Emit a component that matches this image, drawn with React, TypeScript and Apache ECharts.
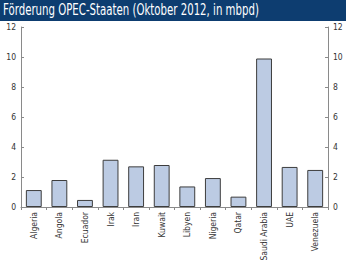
import React, { useEffect, useRef } from "react";
import * as echarts from "echarts";

const titleText = "Förderung OPEC-Staaten (Oktober 2012, in mbpd)";
const categories = ["Algeria", "Angola", "Ecuador", "Irak", "Iran", "Kuwait", "Libyen", "Nigeria", "Qatar", "Saudi Arabia", "UAE", "Venezuela"];
const production = [1.13, 1.8, 0.47, 3.15, 2.71, 2.8, 1.37, 1.93, 0.69, 9.9, 2.67, 2.47];
const yMin = 0;
const yMax = 12;
const yStep = 2;

const FONT = "'DejaVu Sans Condensed', 'Liberation Sans Narrow', sans-serif";

export default function App() {
  const ref = useRef<HTMLDivElement>(null);
  useEffect(() => {
    document.body.style.margin = "0";
    const chart = echarts.init(ref.current!, null, { renderer: "svg" });
    const axisLabel = { color: "#333", fontSize: 8.5, fontFamily: FONT };
    const yAxisCommon = {
      type: "value",
      min: yMin,
      max: yMax,
      interval: yStep,
      splitLine: { show: false },
      axisLine: { show: true, lineStyle: { color: "#8a8a8a", width: 1 } },
      axisTick: { show: true, inside: true, length: 3, lineStyle: { color: "#8a8a8a" } },
    };
    chart.setOption({
      animation: false,
      backgroundColor: "#fff",
      graphic: [
        { type: "rect", left: 0, top: 0, shape: { width: 346, height: 21 }, style: { fill: "#0d3d70" } },
        {
          type: "text",
          x: 3,
          y: 2,
          scaleX: 0.755,
          style: { text: titleText, fill: "#fff", fontSize: 15, fontFamily: FONT, textVerticalAlign: "top" },
        },
      ],
      grid: { left: 21, right: 18, top: 27, bottom: 53, containLabel: false, outerBoundsMode: "none" },
      xAxis: {
        type: "category",
        data: categories,
        axisLine: { show: true, lineStyle: { color: "#8a8a8a" } },
        axisTick: { show: true, length: 3, lineStyle: { color: "#8a8a8a" } },
        axisLabel: { ...axisLabel, rotate: 90, margin: 5, interval: 0 },
      },
      yAxis: [
        { ...yAxisCommon, position: "left", axisLabel: { ...axisLabel, margin: 5 } },
        { ...yAxisCommon, position: "right", axisLabel: { ...axisLabel, margin: 5 } },
      ],
      series: [
        {
          type: "bar",
          data: production,
          yAxisIndex: 0,
          barCategoryGap: "38%",
          itemStyle: { color: "#bccbe3", borderColor: "#3d3d3d", borderWidth: 1 },
        },
      ],
    });
    return () => chart.dispose();
  }, []);
  return <div ref={ref} style={{ width: 346, height: 260 }} />;
}
